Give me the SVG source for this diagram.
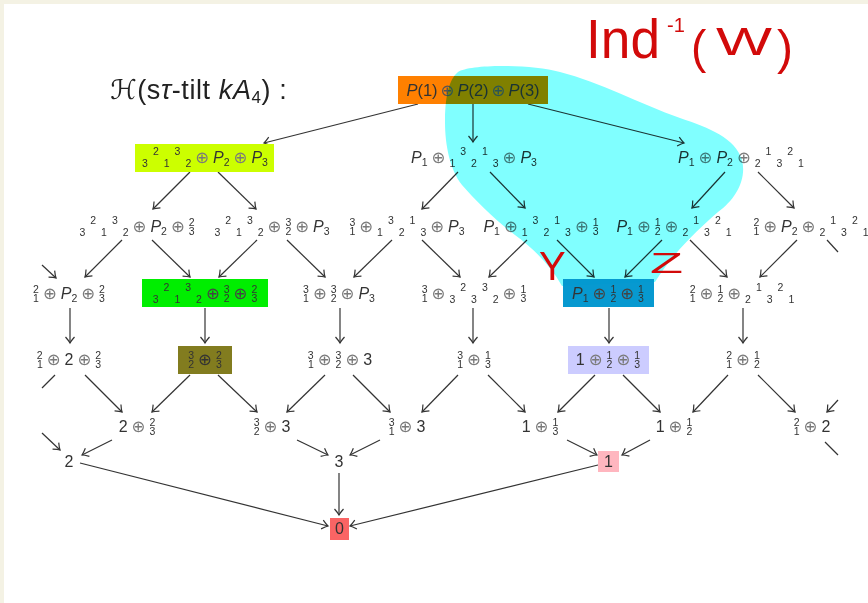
<svg xmlns="http://www.w3.org/2000/svg" width="868" height="603" viewBox="0 0 868 603">
<style>
  .t { font-family: "Liberation Sans", "DejaVu Sans", sans-serif; font-size: 16px; fill: #333; }
  .i { font-style: italic; }
  .s { font-size: 10.5px; }
  .o { font-family: "DejaVu Sans", sans-serif; font-size: 16.5px; fill: #7a7a7a; }
  .c { stroke: #333; stroke-width: 1.2; fill: none; }
  .a { marker-end: url(#ah); }
  .red { font-family: "Liberation Sans", "DejaVu Sans", sans-serif; fill: #d20a0a; }
</style>
<defs>
  <marker id="ah" viewBox="-8 -6 10 12" refX="0" refY="0" markerWidth="10" markerHeight="12" markerUnits="userSpaceOnUse" orient="auto">
    <path d="M-6,-4.5 Q-2,-1 0,0 Q-2,1 -6,4.5" fill="none" stroke="#333" stroke-width="1.2"/>
  </marker>
</defs>

<!-- page -->
<rect x="0" y="0" width="868" height="603" fill="#fff"/>
<rect x="0" y="0" width="868" height="4" fill="#f4f2e4"/>
<rect x="0" y="0" width="4" height="603" fill="#f4f2e4"/>

<!-- title -->
<text x="110" y="99" class="t" style="font-size:27px;fill:#222;letter-spacing:0.6px">ℋ(s<tspan class="i">τ</tspan>-tilt <tspan class="i">kA</tspan><tspan font-size="17" dy="4">4</tspan><tspan dy="-4">) :</tspan></text>

<!-- connectors -->
<g id="edges">
  <line class="c a" x1="418" y1="104" x2="264" y2="143"/>
  <line class="c a" x1="473" y1="104" x2="473" y2="142"/>
  <line class="c a" x1="528" y1="104" x2="684" y2="143"/>

  <line class="c a" x1="190" y1="172" x2="153" y2="209"/>
  <line class="c a" x1="218" y1="172" x2="256" y2="209"/>
  <line class="c a" x1="458" y1="172" x2="422" y2="209"/>
  <line class="c a" x1="490" y1="172" x2="525" y2="208"/>
  <line class="c a" x1="725" y1="172" x2="692" y2="208"/>
  <line class="c a" x1="758" y1="172" x2="794" y2="208"/>

  <line class="c a" x1="42" y1="265" x2="56" y2="278"/>
  <line class="c a" x1="122" y1="240" x2="85" y2="277"/>
  <line class="c a" x1="152" y1="240" x2="190" y2="277"/>
  <line class="c a" x1="257" y1="240" x2="219" y2="277"/>
  <line class="c a" x1="287" y1="240" x2="325" y2="277"/>
  <line class="c a" x1="392" y1="240" x2="354" y2="277"/>
  <line class="c a" x1="422" y1="240" x2="460" y2="277"/>
  <line class="c a" x1="527" y1="240" x2="489" y2="277"/>
  <line class="c a" x1="557" y1="240" x2="594" y2="277"/>
  <line class="c a" x1="662" y1="240" x2="625" y2="277"/>
  <line class="c a" x1="690" y1="240" x2="727" y2="277"/>
  <line class="c a" x1="797" y1="240" x2="760" y2="277"/>
  <line class="c" x1="827" y1="240" x2="838" y2="252"/>

  <line class="c a" x1="70" y1="308" x2="70" y2="343"/>
  <line class="c a" x1="205" y1="308" x2="205" y2="343"/>
  <line class="c a" x1="340" y1="308" x2="340" y2="343"/>
  <line class="c a" x1="473" y1="308" x2="473" y2="343"/>
  <line class="c a" x1="609" y1="308" x2="609" y2="343"/>
  <line class="c a" x1="743" y1="308" x2="743" y2="343"/>

  <line class="c" x1="55" y1="375" x2="42" y2="388"/>
  <line class="c a" x1="85" y1="375" x2="122" y2="412"/>
  <line class="c a" x1="190" y1="375" x2="152" y2="412"/>
  <line class="c a" x1="218" y1="375" x2="257" y2="412"/>
  <line class="c a" x1="325" y1="375" x2="287" y2="412"/>
  <line class="c a" x1="353" y1="375" x2="390" y2="412"/>
  <line class="c a" x1="458" y1="375" x2="422" y2="412"/>
  <line class="c a" x1="488" y1="375" x2="525" y2="412"/>
  <line class="c a" x1="595" y1="375" x2="558" y2="412"/>
  <line class="c a" x1="623" y1="375" x2="660" y2="412"/>
  <line class="c a" x1="728" y1="375" x2="693" y2="412"/>
  <line class="c a" x1="758" y1="375" x2="795" y2="412"/>
  <line class="c a" x1="838" y1="400" x2="827" y2="412"/>

  <line class="c a" x1="42" y1="433" x2="60" y2="450"/>
  <line class="c a" x1="112" y1="440" x2="82" y2="455"/>
  <line class="c a" x1="297" y1="440" x2="328" y2="455"/>
  <line class="c a" x1="380" y1="440" x2="350" y2="455"/>
  <line class="c a" x1="567" y1="440" x2="597" y2="455"/>
  <line class="c a" x1="650" y1="440" x2="622" y2="455"/>
  <line class="c" x1="825" y1="442" x2="838" y2="455"/>

  <line class="c a" x1="80" y1="463" x2="328" y2="526"/>
  <line class="c a" x1="339" y1="473" x2="339" y2="515"/>
  <line class="c a" x1="598" y1="465" x2="350" y2="526"/>
</g>

<!-- row 0 -->
<g id="n-top">
  <rect x="398" y="76" width="150" height="28" fill="#ff8000"/>
  <text class="t" x="473" y="96" text-anchor="middle" style="font-size:16.5px"><tspan class="i">P</tspan>(1)<tspan class="o" dx="3" style="fill:#555">⊕</tspan><tspan class="i" dx="3">P</tspan>(2)<tspan class="o" dx="3" style="fill:#555">⊕</tspan><tspan class="i" dx="3">P</tspan>(3)</text>
</g>

<!-- row 1 -->
<g id="n-a">
  <rect x="135" y="144" width="139" height="28" fill="#ccff00"/>
  <text class="t" x="205" y="163" text-anchor="middle"><tspan class="s" dy="4">3</tspan><tspan class="s" dx="5" dy="-12">2</tspan><tspan class="s" dx="5" dy="12">1</tspan><tspan class="s" dx="5" dy="-12">3</tspan><tspan class="s" dx="5" dy="12">2</tspan><tspan class="o" dx="4" dy="-4">⊕</tspan><tspan class="i" dx="4">P</tspan><tspan class="s" dy="3">2</tspan><tspan class="o" dx="4" dy="-3">⊕</tspan><tspan class="i" dx="4">P</tspan><tspan class="s" dy="3">3</tspan></text>
</g>
<g id="n-b">
  <text class="t" x="474" y="163" text-anchor="middle"><tspan class="i">P</tspan><tspan class="s" dy="3">1</tspan><tspan class="o" dx="4" dy="-3">⊕</tspan><tspan class="s" dx="4" dy="4">1</tspan><tspan class="s" dx="5" dy="-12">3</tspan><tspan class="s" dx="5" dy="12">2</tspan><tspan class="s" dx="5" dy="-12">1</tspan><tspan class="s" dx="5" dy="12">3</tspan><tspan class="o" dx="4" dy="-4">⊕</tspan><tspan class="i" dx="4">P</tspan><tspan class="s" dy="3">3</tspan></text>
</g>
<g id="n-c">
  <text class="t" x="741" y="163" text-anchor="middle"><tspan class="i">P</tspan><tspan class="s" dy="3">1</tspan><tspan class="o" dx="4" dy="-3">⊕</tspan><tspan class="i" dx="4">P</tspan><tspan class="s" dy="3">2</tspan><tspan class="o" dx="4" dy="-3">⊕</tspan><tspan class="s" dx="4" dy="4">2</tspan><tspan class="s" dx="5" dy="-12">1</tspan><tspan class="s" dx="5" dy="12">3</tspan><tspan class="s" dx="5" dy="-12">2</tspan><tspan class="s" dx="5" dy="12">1</tspan></text>
</g>

<!-- row 2 -->
<g id="n-d">
  <text class="t" x="137" y="232" text-anchor="middle"><tspan class="s" dy="4">3</tspan><tspan class="s" dx="5" dy="-12">2</tspan><tspan class="s" dx="5" dy="12">1</tspan><tspan class="s" dx="5" dy="-12">3</tspan><tspan class="s" dx="5" dy="12">2</tspan><tspan class="o" dx="4" dy="-4">⊕</tspan><tspan class="i" dx="4">P</tspan><tspan class="s" dy="3">2</tspan><tspan class="o" dx="4" dy="-3">⊕</tspan><tspan class="s" dx="4" dy="-6">2</tspan><tspan class="s" dx="-5.84" dy="9">3</tspan></text>
</g>
<g id="n-e">
  <text class="t" x="272" y="232" text-anchor="middle"><tspan class="s" dy="4">3</tspan><tspan class="s" dx="5" dy="-12">2</tspan><tspan class="s" dx="5" dy="12">1</tspan><tspan class="s" dx="5" dy="-12">3</tspan><tspan class="s" dx="5" dy="12">2</tspan><tspan class="o" dx="4" dy="-4">⊕</tspan><tspan class="s" dx="4" dy="-6">3</tspan><tspan class="s" dx="-5.84" dy="9">2</tspan><tspan class="o" dx="4" dy="-3">⊕</tspan><tspan class="i" dx="4">P</tspan><tspan class="s" dy="3">3</tspan></text>
</g>
<g id="n-f">
  <text class="t" x="407" y="232" text-anchor="middle"><tspan class="s" dy="-6">3</tspan><tspan class="s" dx="-5.84" dy="9">1</tspan><tspan class="o" dx="4" dy="-3">⊕</tspan><tspan class="s" dx="4" dy="4">1</tspan><tspan class="s" dx="5" dy="-12">3</tspan><tspan class="s" dx="5" dy="12">2</tspan><tspan class="s" dx="5" dy="-12">1</tspan><tspan class="s" dx="5" dy="12">3</tspan><tspan class="o" dx="4" dy="-4">⊕</tspan><tspan class="i" dx="4">P</tspan><tspan class="s" dy="3">3</tspan></text>
</g>
<g id="n-g">
  <text class="t" x="541" y="232" text-anchor="middle"><tspan class="i">P</tspan><tspan class="s" dy="3">1</tspan><tspan class="o" dx="4" dy="-3">⊕</tspan><tspan class="s" dx="4" dy="4">1</tspan><tspan class="s" dx="5" dy="-12">3</tspan><tspan class="s" dx="5" dy="12">2</tspan><tspan class="s" dx="5" dy="-12">1</tspan><tspan class="s" dx="5" dy="12">3</tspan><tspan class="o" dx="4" dy="-4">⊕</tspan><tspan class="s" dx="4" dy="-6">1</tspan><tspan class="s" dx="-5.84" dy="9">3</tspan></text>
</g>
<g id="n-h">
  <text class="t" x="674" y="232" text-anchor="middle"><tspan class="i">P</tspan><tspan class="s" dy="3">1</tspan><tspan class="o" dx="4" dy="-3">⊕</tspan><tspan class="s" dx="4" dy="-6">1</tspan><tspan class="s" dx="-5.84" dy="9">2</tspan><tspan class="o" dx="4" dy="-3">⊕</tspan><tspan class="s" dx="4" dy="4">2</tspan><tspan class="s" dx="5" dy="-12">1</tspan><tspan class="s" dx="5" dy="12">3</tspan><tspan class="s" dx="5" dy="-12">2</tspan><tspan class="s" dx="5" dy="12">1</tspan></text>
</g>
<g id="n-i">
  <text class="t" x="811" y="232" text-anchor="middle"><tspan class="s" dy="-6">2</tspan><tspan class="s" dx="-5.84" dy="9">1</tspan><tspan class="o" dx="4" dy="-3">⊕</tspan><tspan class="i" dx="4">P</tspan><tspan class="s" dy="3">2</tspan><tspan class="o" dx="4" dy="-3">⊕</tspan><tspan class="s" dx="4" dy="4">2</tspan><tspan class="s" dx="5" dy="-12">1</tspan><tspan class="s" dx="5" dy="12">3</tspan><tspan class="s" dx="5" dy="-12">2</tspan><tspan class="s" dx="5" dy="12">1</tspan></text>
</g>

<!-- row 3 -->
<g id="n-j">
  <text class="t" x="69" y="299" text-anchor="middle"><tspan class="s" dy="-6">2</tspan><tspan class="s" dx="-5.84" dy="9">1</tspan><tspan class="o" dx="4" dy="-3">⊕</tspan><tspan class="i" dx="4">P</tspan><tspan class="s" dy="3">2</tspan><tspan class="o" dx="4" dy="-3">⊕</tspan><tspan class="s" dx="4" dy="-6">2</tspan><tspan class="s" dx="-5.84" dy="9">3</tspan></text>
</g>
<g id="n-k">
  <rect x="142" y="279" width="126" height="28" fill="#00ee00"/>
  <text class="t" x="205" y="299" text-anchor="middle"><tspan class="s" dy="4">3</tspan><tspan class="s" dx="5" dy="-12">2</tspan><tspan class="s" dx="5" dy="12">1</tspan><tspan class="s" dx="5" dy="-12">3</tspan><tspan class="s" dx="5" dy="12">2</tspan><tspan class="o" dx="4" dy="-4" style="fill:#444">⊕</tspan><tspan class="s" dx="4" dy="-6">3</tspan><tspan class="s" dx="-5.84" dy="9">2</tspan><tspan class="o" dx="4" dy="-3" style="fill:#444">⊕</tspan><tspan class="s" dx="4" dy="-6">2</tspan><tspan class="s" dx="-5.84" dy="9">3</tspan></text>
</g>
<g id="n-l">
  <text class="t" x="339" y="299" text-anchor="middle"><tspan class="s" dy="-6">3</tspan><tspan class="s" dx="-5.84" dy="9">1</tspan><tspan class="o" dx="4" dy="-3">⊕</tspan><tspan class="s" dx="4" dy="-6">3</tspan><tspan class="s" dx="-5.84" dy="9">2</tspan><tspan class="o" dx="4" dy="-3">⊕</tspan><tspan class="i" dx="4">P</tspan><tspan class="s" dy="3">3</tspan></text>
</g>
<g id="n-m">
  <text class="t" x="474" y="299" text-anchor="middle"><tspan class="s" dy="-6">3</tspan><tspan class="s" dx="-5.84" dy="9">1</tspan><tspan class="o" dx="4" dy="-3">⊕</tspan><tspan class="s" dx="4" dy="4">3</tspan><tspan class="s" dx="5" dy="-12">2</tspan><tspan class="s" dx="5" dy="12">3</tspan><tspan class="s" dx="5" dy="-12">3</tspan><tspan class="s" dx="5" dy="12">2</tspan><tspan class="o" dx="4" dy="-4">⊕</tspan><tspan class="s" dx="4" dy="-6">1</tspan><tspan class="s" dx="-5.84" dy="9">3</tspan></text>
</g>
<g id="n-n">
  <rect x="563" y="279" width="91" height="28" fill="#0799d0"/>
  <text class="t" x="608" y="299" text-anchor="middle"><tspan class="i">P</tspan><tspan class="s" dy="3">1</tspan><tspan class="o" dx="4" dy="-3" style="fill:#444">⊕</tspan><tspan class="s" dx="4" dy="-6">1</tspan><tspan class="s" dx="-5.84" dy="9">2</tspan><tspan class="o" dx="4" dy="-3" style="fill:#444">⊕</tspan><tspan class="s" dx="4" dy="-6">1</tspan><tspan class="s" dx="-5.84" dy="9">3</tspan></text>
</g>
<g id="n-o">
  <text class="t" x="742" y="299" text-anchor="middle"><tspan class="s" dy="-6">2</tspan><tspan class="s" dx="-5.84" dy="9">1</tspan><tspan class="o" dx="4" dy="-3">⊕</tspan><tspan class="s" dx="4" dy="-6">1</tspan><tspan class="s" dx="-5.84" dy="9">2</tspan><tspan class="o" dx="4" dy="-3">⊕</tspan><tspan class="s" dx="4" dy="4">2</tspan><tspan class="s" dx="5" dy="-12">1</tspan><tspan class="s" dx="5" dy="12">3</tspan><tspan class="s" dx="5" dy="-12">2</tspan><tspan class="s" dx="5" dy="12">1</tspan></text>
</g>

<!-- row 4 -->
<g id="n-p">
  <text class="t" x="69" y="365" text-anchor="middle"><tspan class="s" dy="-6">2</tspan><tspan class="s" dx="-5.84" dy="9">1</tspan><tspan class="o" dx="4" dy="-3">⊕</tspan><tspan dx="4">2</tspan><tspan class="o" dx="4">⊕</tspan><tspan class="s" dx="4" dy="-6">2</tspan><tspan class="s" dx="-5.84" dy="9">3</tspan></text>
</g>
<g id="n-q">
  <rect x="178" y="346" width="54" height="28" fill="#827c1f"/>
  <text class="t" x="205" y="365" text-anchor="middle"><tspan class="s" dy="-6">3</tspan><tspan class="s" dx="-5.84" dy="9">2</tspan><tspan class="o" dx="4" dy="-3" style="fill:#333">⊕</tspan><tspan class="s" dx="4" dy="-6">2</tspan><tspan class="s" dx="-5.84" dy="9">3</tspan></text>
</g>
<g id="n-r">
  <text class="t" x="340" y="365" text-anchor="middle"><tspan class="s" dy="-6">3</tspan><tspan class="s" dx="-5.84" dy="9">1</tspan><tspan class="o" dx="4" dy="-3">⊕</tspan><tspan class="s" dx="4" dy="-6">3</tspan><tspan class="s" dx="-5.84" dy="9">2</tspan><tspan class="o" dx="4" dy="-3">⊕</tspan><tspan dx="4">3</tspan></text>
</g>
<g id="n-s">
  <text class="t" x="474" y="365" text-anchor="middle"><tspan class="s" dy="-6">3</tspan><tspan class="s" dx="-5.84" dy="9">1</tspan><tspan class="o" dx="4" dy="-3">⊕</tspan><tspan class="s" dx="4" dy="-6">1</tspan><tspan class="s" dx="-5.84" dy="9">3</tspan></text>
</g>
<g id="n-t">
  <rect x="568" y="346" width="81" height="28" fill="#ccccff"/>
  <text class="t" x="608" y="365" text-anchor="middle">1<tspan class="o" dx="4">⊕</tspan><tspan class="s" dx="4" dy="-6">1</tspan><tspan class="s" dx="-5.84" dy="9">2</tspan><tspan class="o" dx="4" dy="-3">⊕</tspan><tspan class="s" dx="4" dy="-6">1</tspan><tspan class="s" dx="-5.84" dy="9">3</tspan></text>
</g>
<g id="n-u">
  <text class="t" x="743" y="365" text-anchor="middle"><tspan class="s" dy="-6">2</tspan><tspan class="s" dx="-5.84" dy="9">1</tspan><tspan class="o" dx="4" dy="-3">⊕</tspan><tspan class="s" dx="4" dy="-6">1</tspan><tspan class="s" dx="-5.84" dy="9">2</tspan></text>
</g>

<!-- row 5 -->
<g id="n-v">
  <text class="t" x="137" y="432" text-anchor="middle">2<tspan class="o" dx="4">⊕</tspan><tspan class="s" dx="4" dy="-6">2</tspan><tspan class="s" dx="-5.84" dy="9">3</tspan></text>
</g>
<g id="n-w">
  <text class="t" x="272" y="432" text-anchor="middle"><tspan class="s" dy="-6">3</tspan><tspan class="s" dx="-5.84" dy="9">2</tspan><tspan class="o" dx="4" dy="-3">⊕</tspan><tspan dx="4">3</tspan></text>
</g>
<g id="n-x">
  <text class="t" x="407" y="432" text-anchor="middle"><tspan class="s" dy="-6">3</tspan><tspan class="s" dx="-5.84" dy="9">1</tspan><tspan class="o" dx="4" dy="-3">⊕</tspan><tspan dx="4">3</tspan></text>
</g>
<g id="n-y">
  <text class="t" x="540" y="432" text-anchor="middle">1<tspan class="o" dx="4">⊕</tspan><tspan class="s" dx="4" dy="-6">1</tspan><tspan class="s" dx="-5.84" dy="9">3</tspan></text>
</g>
<g id="n-z">
  <text class="t" x="674" y="432" text-anchor="middle">1<tspan class="o" dx="4">⊕</tspan><tspan class="s" dx="4" dy="-6">1</tspan><tspan class="s" dx="-5.84" dy="9">2</tspan></text>
</g>
<g id="n-aa">
  <text class="t" x="812" y="432" text-anchor="middle"><tspan class="s" dy="-6">2</tspan><tspan class="s" dx="-5.84" dy="9">1</tspan><tspan class="o" dx="4" dy="-3">⊕</tspan><tspan dx="4">2</tspan></text>
</g>

<!-- row 6 -->
<g id="n-2"><text class="t" x="69" y="467" text-anchor="middle">2</text></g>
<g id="n-3"><text class="t" x="339" y="467" text-anchor="middle">3</text></g>
<g id="n-1">
  <rect x="598" y="451" width="21" height="21" fill="#ffb6bf"/>
  <text class="t" x="608.5" y="467" text-anchor="middle">1</text>
</g>

<!-- row 7 -->
<g id="n-0">
  <rect x="330" y="518" width="19" height="22" fill="#fa6464"/>
  <text class="t" x="339.5" y="534" text-anchor="middle">0</text>
</g>

<!-- highlighter stroke over the upper-right region -->
<path d="M445,122 C445,100 448,80 458,72 C470,64 530,64 560,72 C600,82 640,104 680,118 C710,128 735,138 742,160 C747,180 735,200 718,212 C700,228 675,250 655,282 L562,286 C550,265 535,250 515,235 C495,220 475,200 462,185 C450,170 445,145 445,122 Z" fill="#80ffff" style="mix-blend-mode:multiply"/>

<!-- handwritten annotations -->
<g id="notes">
  <text class="red" x="586" y="58" font-size="56" textLength="74" lengthAdjust="spacingAndGlyphs">Ind</text>
  <text class="red" x="667" y="32" font-size="20">-1</text>
  <text class="red" x="691" y="63" font-size="46">(</text>
  <text class="red" x="716" y="55" font-size="38" textLength="56" lengthAdjust="spacingAndGlyphs">W</text>
  <text class="red" x="777" y="64" font-size="48">)</text>
  <text class="red" x="539" y="280" font-size="40">Y</text>
  <text class="red" x="650" y="273" font-size="30" textLength="33" lengthAdjust="spacingAndGlyphs">Z</text>
</g>
</svg>
